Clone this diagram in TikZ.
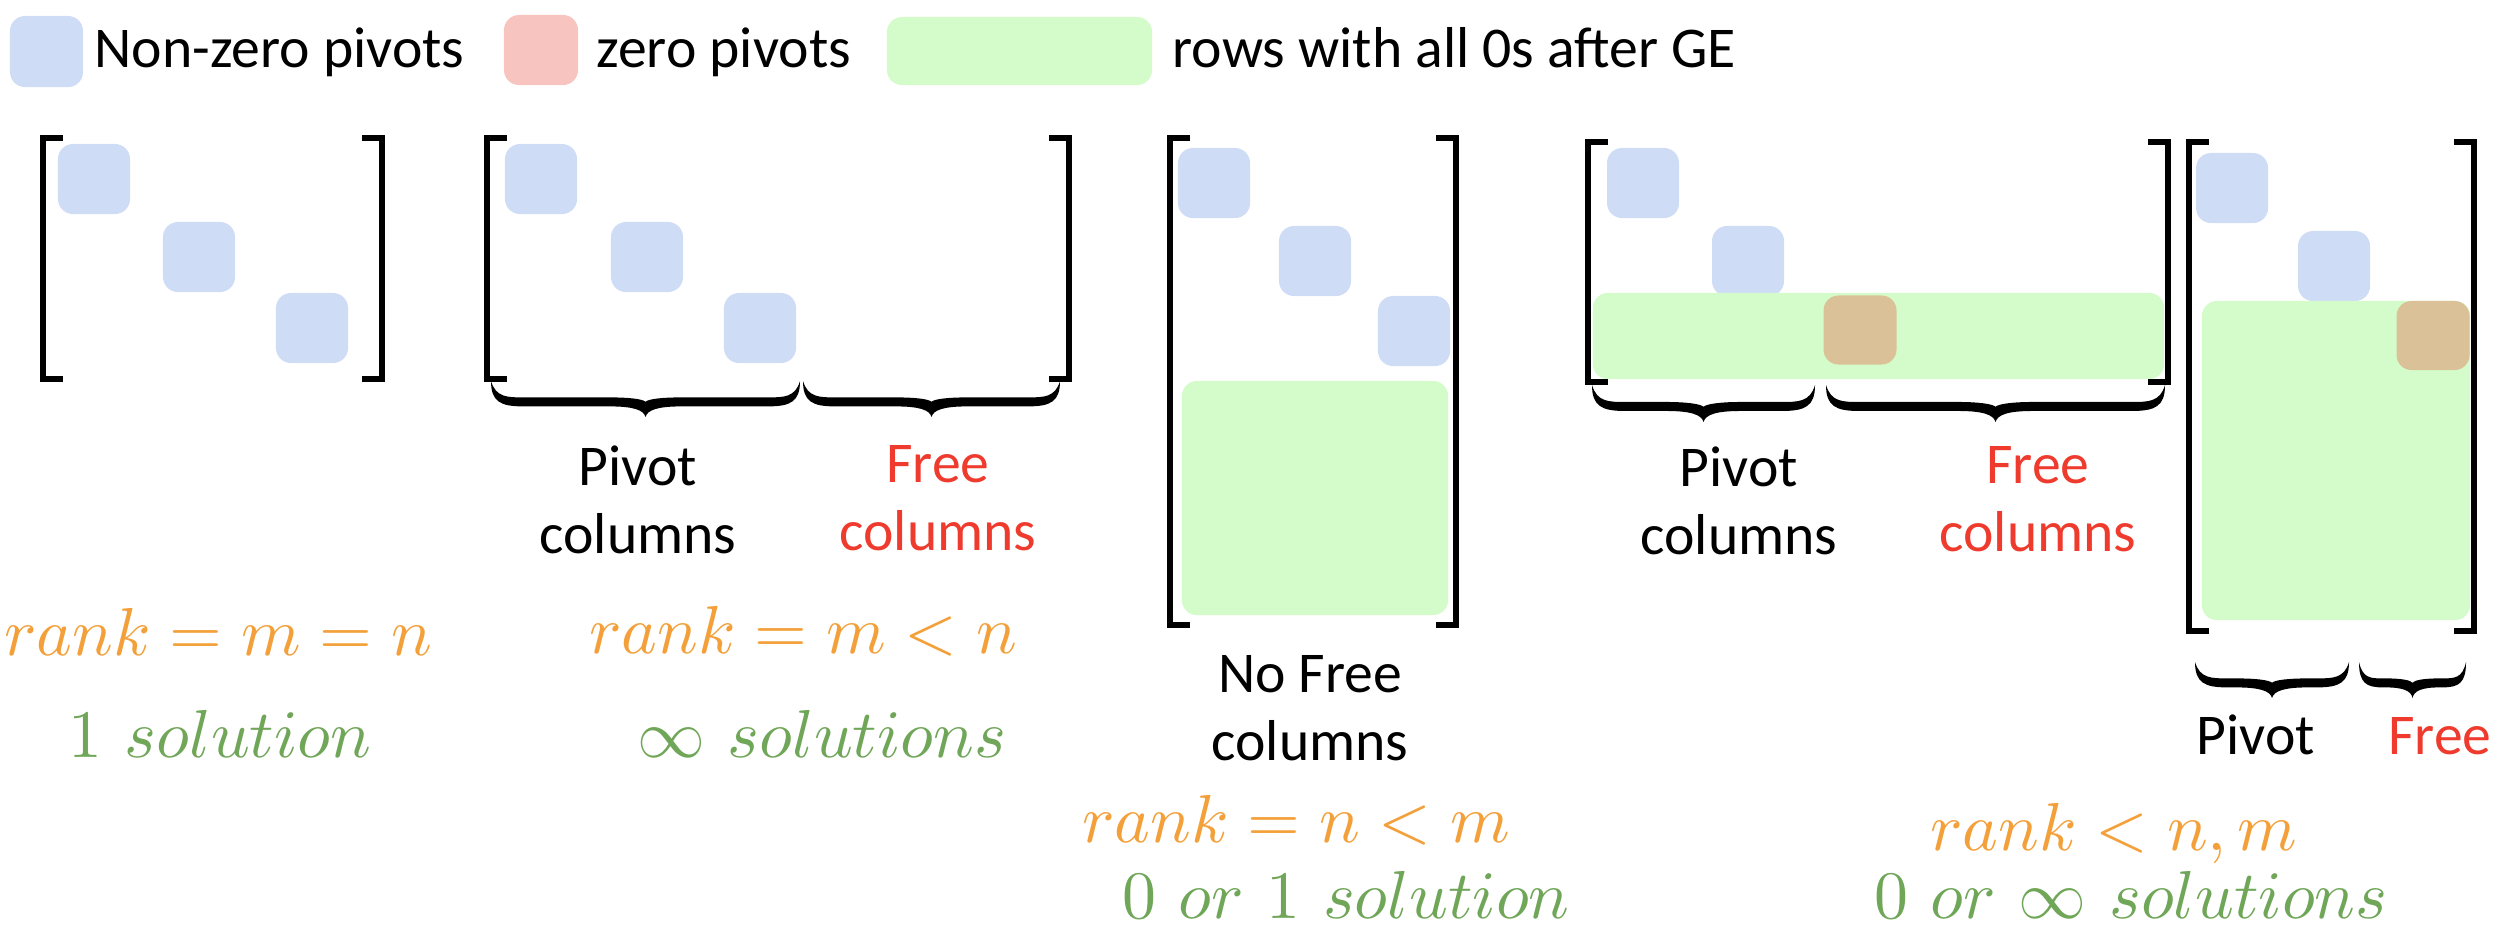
\RequirePackage{fix-cm}
\documentclass[tikz,border=0pt]{standalone}
\usepackage{graphicx}
\usepackage{fontspec}
\newfontfamily\carl{Carlito}
\definecolor{nzblue}{RGB}{207,220,245}
\definecolor{zpink}{RGB}{248,196,192}
\definecolor{zgreen}{RGB}{212,252,202}
\definecolor{ztan}{RGB}{219,193,152}
\definecolor{rkorange}{RGB}{243,160,58}
\definecolor{solgreen}{RGB}{112,166,88}
\definecolor{freered}{RGB}{238,59,46}
% filled calligraphic brace opening upward: x1, x2, top y, amplitude, thickness (pixel units)
\newcommand{\cbrc}[5]{%
  \pgfmathsetmacro\bw{#2-#1}%
  \pgfmathsetmacro\bxm{(#1+#2)/2}%
  \pgfmathsetmacro\be{min(0.9*#4,0.22*\bw)}%
  \pgfmathsetmacro\bc{min(1.0*#4,0.25*\bw)}%
  \pgfmathsetmacro\byb{#3+0.58*#4}%
  \pgfmathsetmacro\bh{#5/2}%
  \pgfmathsetmacro\bn{#3+#4-1.7*#5}%
  \fill[black]
    (#1,#3) .. controls (#1,\byb) and ({#1+0.3*\be},{\byb+\bh}) .. ({#1+\be},{\byb+\bh})
    -- ({\bxm-\bc},{\byb+\bh})
    .. controls ({\bxm-0.35*\bc},{\byb+\bh}) and ({\bxm-0.05*\bc},{#3+0.8*#4}) .. (\bxm,{#3+#4})
    .. controls ({\bxm+0.05*\bc},{#3+0.8*#4}) and ({\bxm+0.35*\bc},{\byb+\bh}) .. ({\bxm+\bc},{\byb+\bh})
    -- ({#2-\be},{\byb+\bh})
    .. controls ({#2-0.3*\be},{\byb+\bh}) and (#2,\byb) .. (#2,#3)
    .. controls ({#2-0.15*\be},{\byb-\bh}) and ({#2-0.5*\be},{\byb-\bh}) .. ({#2-\be},{\byb-\bh})
    -- ({\bxm+\bc},{\byb-\bh})
    .. controls ({\bxm+0.45*\bc},{\byb-\bh}) and ({\bxm+0.08*\bc},{\bn-0.3*#5}) .. (\bxm,\bn)
    .. controls ({\bxm-0.08*\bc},{\bn-0.3*#5}) and ({\bxm-0.45*\bc},{\byb-\bh}) .. ({\bxm-\bc},{\byb-\bh})
    -- ({#1+\be},{\byb-\bh})
    .. controls ({#1+0.5*\be},{\byb-\bh}) and ({#1+0.15*\be},{\byb-\bh}) .. (#1,#3) -- cycle;%
}
\begin{document}
\begin{tikzpicture}[x=0.01cm,y=-0.01cm,
  blk/.style={rectangle, rounded corners=0.15cm, inner sep=0, draw=none},
  pv/.style={blk, fill=nzblue, minimum width=0.72cm, minimum height=0.70cm},
  zp/.style={blk, fill=ztan, minimum width=0.73cm, minimum height=0.69cm},
  zrow/.style={blk, fill=zgreen},
  brk/.style={line width=1.6pt},
  lab/.style={font=\carl\fontsize{16.4}{19.4}\selectfont, inner sep=0, align=center},
  mth/.style={font=\fontsize{10}{12}\selectfont, inner sep=0, anchor=base}
]
\useasboundingbox (0,0) rectangle (2500,944);

% legend
\node[blk, fill=nzblue, minimum width=0.73cm, minimum height=0.71cm] (lgb) at (46.5,51.5) {};
\node[lab, anchor=base west] (lgbt) at (94,67) {Non-zero pivots};
\node[blk, fill=zpink, minimum width=0.74cm, minimum height=0.70cm] (lgp) at (541,50) {};
\node[lab, anchor=base west] (lgpt) at (596,67) {zero pivots};
\node[blk, fill=zgreen, minimum width=2.65cm, minimum height=0.68cm] (lgg) at (1019.5,51) {};
\node[lab, anchor=base west] (lggt) at (1172,67) {rows with all 0s after GE};

% matrix 1
\node[pv] (a1) at (94,179) {};
\node[pv] (a2) at (199,257) {};
\node[pv] (a3) at (312,328) {};
\draw[brk] (63,138) -- (43,138) -- (43,379) -- (63,379);
\draw[brk] (362,138) -- (382,138) -- (382,379) -- (362,379);

% matrix 2
\node[pv] (b1) at (541,179) {};
\node[pv] (b2) at (647,257) {};
\node[pv] (b3) at (760,328) {};
\draw[brk] (507,138) -- (487,138) -- (487,379) -- (507,379);
\draw[brk] (1049,138) -- (1069,138) -- (1069,379) -- (1049,379);
\cbrc{491}{800}{381}{36}{9}
\cbrc{803}{1060}{381}{36}{9}
\node[lab, anchor=north] (bpl) at (638,445) {Pivot\\columns};
\node[lab, anchor=north, text=freered] (bfl) at (938,445) {Free\\columns};

% matrix 3
\node[pv] (c1) at (1214,183) {};
\node[pv] (c2) at (1315,261) {};
\node[pv] (c3) at (1414,331) {};
\node[zrow, minimum width=2.66cm, minimum height=2.34cm] (cg) at (1315,498) {};
\draw[brk] (1190,138) -- (1170,138) -- (1170,625) -- (1190,625);
\draw[brk] (1436,138) -- (1456,138) -- (1456,625) -- (1436,625);
\node[lab, anchor=north] (cnl) at (1310,655) {No Free\\columns};

% matrix 4
\node[pv] (d1) at (1643,183) {};
\node[pv] (d2) at (1748,261) {};
\node[zrow, minimum width=5.71cm, minimum height=0.86cm] (dg) at (1878.5,336) {};
\node[zp] (dz) at (1860,330) {};
\draw[brk] (1608,142) -- (1588,142) -- (1588,382) -- (1608,382);
\draw[brk] (2148,142) -- (2168,142) -- (2168,382) -- (2148,382);
\cbrc{1592}{1815}{385}{37}{9}
\cbrc{1826}{2165}{385}{37}{9}
\node[lab, anchor=north] (dpl) at (1739,446) {Pivot\\columns};
\node[lab, anchor=north, text=freered] (dfl) at (2038,446) {Free\\columns};

% matrix 5
\node[pv] (e1) at (2232,188) {};
\node[pv] (e2) at (2334,266) {};
\node[zrow, minimum width=2.68cm, minimum height=3.19cm] (eg) at (2336,460.5) {};
\node[zp] (ez) at (2433,335.5) {};
\draw[brk] (2209,142) -- (2189,142) -- (2189,631) -- (2209,631);
\draw[brk] (2454,142) -- (2474,142) -- (2474,631) -- (2454,631);
\cbrc{2195}{2349}{662}{36}{9}
\cbrc{2359}{2466}{662}{36}{9}
\node[lab, anchor=base] (epl) at (2256,754) {Pivot};
\node[lab, anchor=base, text=freered] (efl) at (2440,754) {Free};

% rank and solutions
\node[mth, text=rkorange] (r1) at (218,655) {\scalebox{1.93}{$rank=m=n$}};
\node[mth, text=solgreen] (s1) at (220,757) {\scalebox{1.93}{$1\ solution$}};
\node[mth, text=rkorange] (r2) at (803,653) {\scalebox{1.93}{$rank=m<n$}};
\node[mth, text=solgreen] (s2) at (822,757) {\scalebox{1.93}{$\infty\ solutions$}};
\node[mth, text=rkorange] (r3) at (1296,842) {\scalebox{1.93}{$rank=n<m$}};
\node[mth, text=solgreen] (s3) at (1346,918) {\scalebox{1.93}{$0\ or\ 1\ solution$}};
\node[mth, text=rkorange] (r4) at (2114,850) {\scalebox{1.93}{$rank<n,m$}};
\node[mth, text=solgreen] (s4) at (2131,918) {\scalebox{1.93}{$0\ or\ \infty\ solutions$}};
\end{tikzpicture}
\end{document}
